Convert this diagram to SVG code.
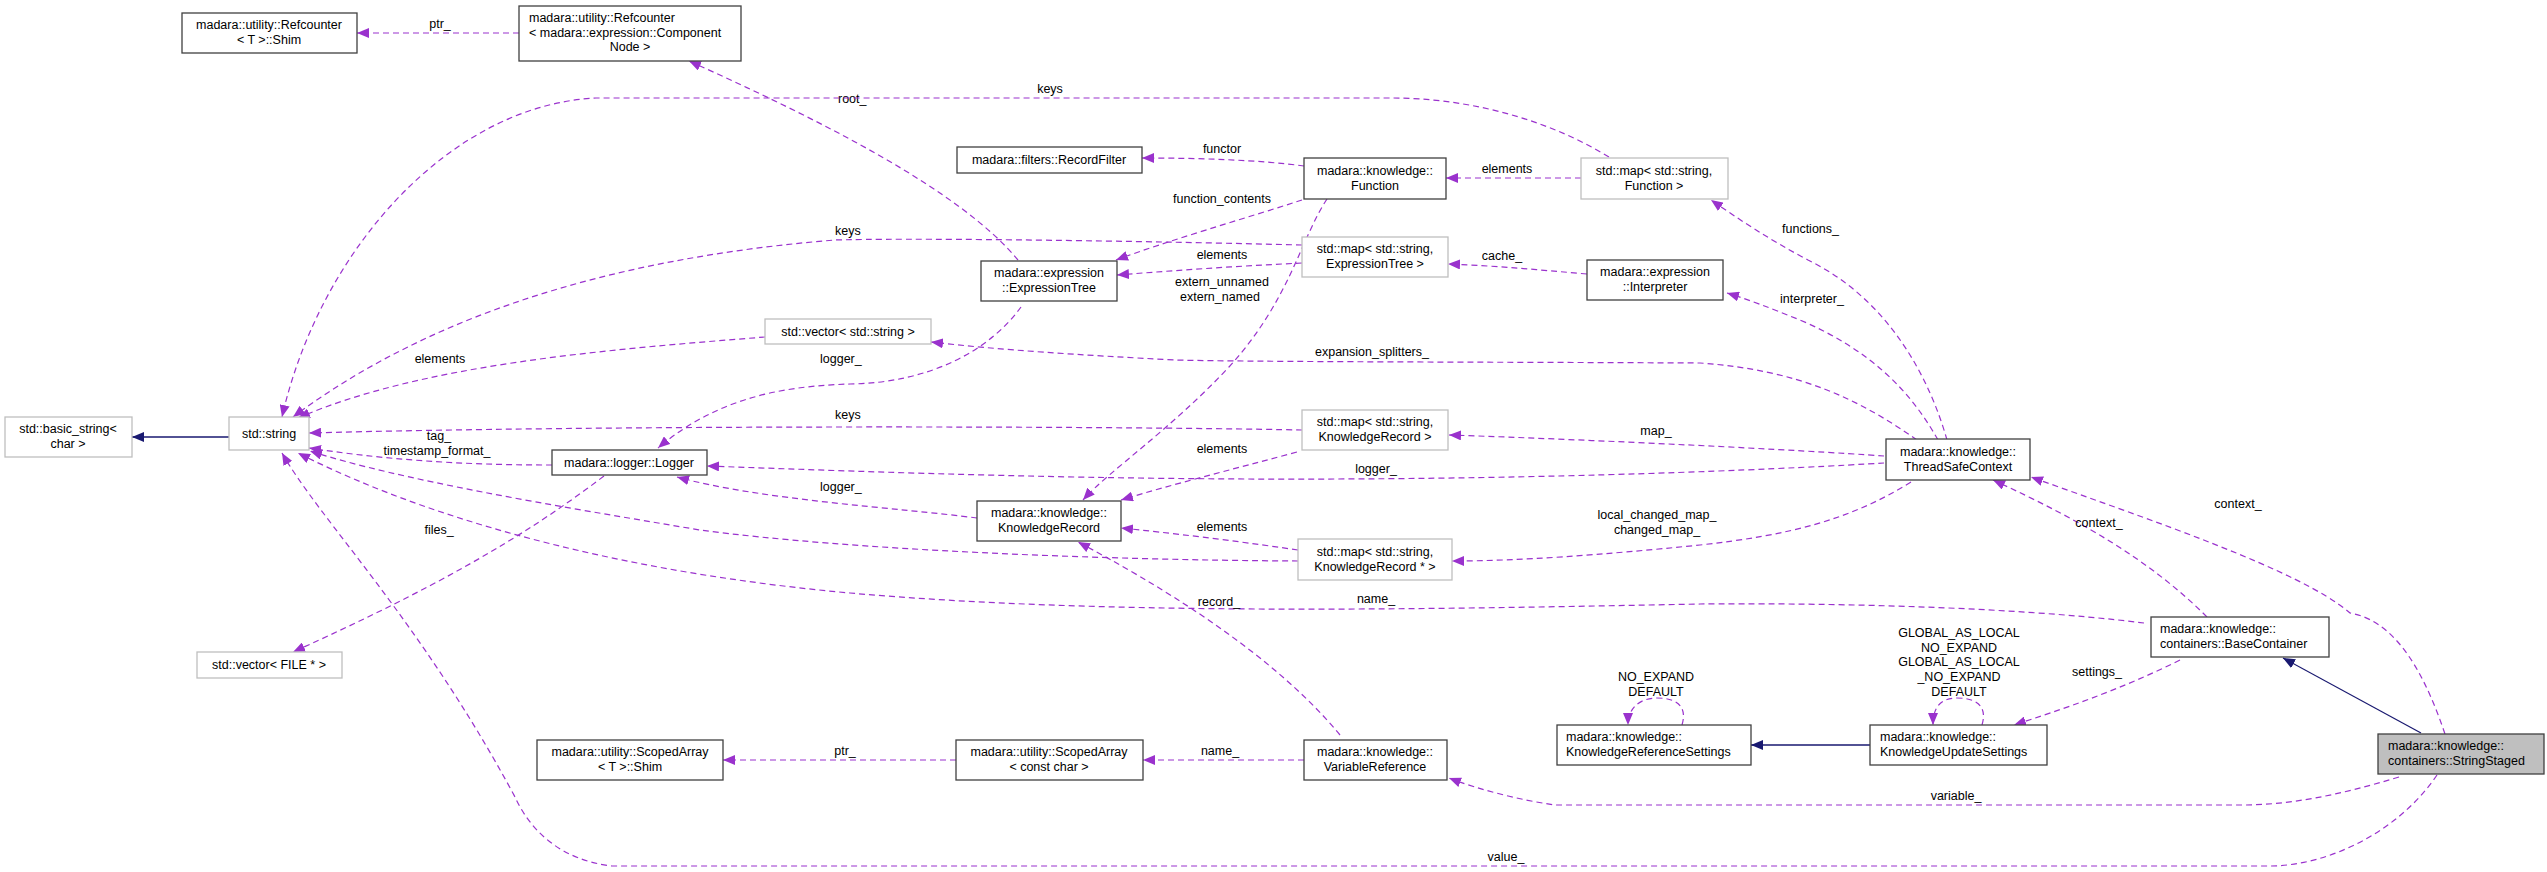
<svg xmlns="http://www.w3.org/2000/svg" width="2547" height="872" viewBox="0 0 2547 872">
<style>
text{font-family:"Liberation Sans",Arial,sans-serif;font-size:12.5px;fill:#000}
.c{text-anchor:middle}
.n rect{fill:#fff;stroke:#404040;stroke-width:1.3}
.g rect{fill:#fff;stroke:#bfbfbf;stroke-width:1.3}
.e{fill:none;stroke:#9a32cd;stroke-width:1.2;stroke-dasharray:6,4;marker-end:url(#pa)}
.b{fill:none;stroke:#191970;stroke-width:1.3;marker-end:url(#ba)}
</style>
<defs>
<marker id="pa" markerWidth="14" markerHeight="10" refX="12" refY="5" orient="auto" markerUnits="userSpaceOnUse"><path d="M0,0 L12,5 L0,10 Z" fill="#9a32cd"/></marker>
<marker id="ba" markerWidth="14" markerHeight="10" refX="12" refY="5" orient="auto" markerUnits="userSpaceOnUse"><path d="M0,0 L12,5 L0,10 Z" fill="#191970"/></marker>
</defs>
<rect width="2547" height="872" fill="#fff"/>
<g id="edges">
<path class="e" d="M519,33 L357,33"/><text class="c" x="440" y="28">ptr_</text>
<path class="e" d="M1018,260 C960,190 820,120 689,61"/><text x="838" y="103">root_</text>
<path class="e" d="M1609,157 C1540,115 1460,98 1392,98 L596,98 C450,105 320,250 282,417"/><text class="c" x="1050" y="93">keys</text>
<path class="e" d="M1302,245 C1100,240 900,238 835,240 C650,255 450,300 293,417"/><text x="835" y="235">keys</text>
<path class="e" d="M765,337 C600,350 420,365 298,418"/><text class="c" x="440" y="363">elements</text>
<path class="e" d="M1302,430 C1100,426 600,425 309,433"/><text x="835" y="419">keys</text>
<path class="e" d="M552,465 C480,465 400,462 309,448"/><text class="c" x="439" y="440">tag_</text><text class="c" x="437" y="455">timestamp_format_</text>
<path class="e" d="M1298,561 C1100,560 850,550 700,530 C550,505 400,480 310,451"/>
<path class="e" d="M2144,623 C2000,605 1800,603 1700,604 C1400,610 1100,615 850,593 C650,575 450,530 298,453"/><text class="c" x="1376" y="603">name_</text>
<path class="e" d="M2437,775 C2400,830 2330,866 2269,866 L612,866 C560,860 530,830 515,797 C420,620 320,520 282,453"/><text class="c" x="1506" y="861">value_</text>
<path class="b" d="M229,437 L132,437"/>
<path class="e" d="M1304,166 C1260,160 1200,158 1142,158"/><text class="c" x="1222" y="153">functor</text>
<path class="e" d="M1302,200 C1240,220 1170,240 1116,260"/><text class="c" x="1222" y="203">function_contents</text>
<path class="e" d="M1581,178 L1446,178"/><text class="c" x="1507" y="173">elements</text>
<path class="e" d="M1302,263 C1240,266 1180,270 1117,275"/><text class="c" x="1222" y="259">elements</text>
<path class="e" d="M1587,274 C1540,270 1500,266 1448,264"/><text class="c" x="1502" y="260">cache_</text>
<path class="e" d="M1947,440 C1930,380 1890,300 1808,260 C1770,240 1740,220 1711,200"/><text x="1782" y="233">functions_</text>
<path class="e" d="M1938,440 C1910,390 1870,350 1800,320 C1770,308 1750,300 1727,293"/><text x="1780" y="303">interpreter_</text>
<path class="e" d="M1917,440 C1860,400 1800,370 1700,363 C1500,362 1250,362 1175,360 C1080,355 1000,350 931,342"/><text class="c" x="1372" y="356">expansion_splitters_</text>
<path class="e" d="M1327,199 C1300,240 1290,300 1229,367 C1170,430 1110,470 1083,500"/><text class="c" x="1222" y="286">extern_unnamed</text><text class="c" x="1220" y="301">extern_named</text>
<path class="e" d="M1021,307 C990,350 930,383 850,384 C790,386 720,395 658,448"/><text x="820" y="363">logger_</text>
<path class="e" d="M1297,452 C1230,470 1170,485 1121,500"/><text class="c" x="1222" y="453">elements</text>
<path class="e" d="M1884,456 C1800,450 1600,440 1449,435"/><text class="c" x="1656" y="435">map_</text>
<path class="e" d="M1884,463 C1800,468 1600,478 1338,479 C1100,480 900,473 707,466"/><text class="c" x="1376" y="473">logger_</text>
<path class="e" d="M977,518 C900,508 760,500 677,477"/><text x="820" y="491">logger_</text>
<path class="e" d="M1298,550 C1230,540 1170,533 1121,528"/><text class="c" x="1222" y="531">elements</text>
<path class="e" d="M1911,482 C1850,520 1790,535 1700,545 C1600,555 1520,561 1452,561"/><text class="c" x="1657" y="519">local_changed_map_</text><text class="c" x="1657" y="534">changed_map_</text>
<path class="e" d="M1340,735 C1270,650 1150,580 1078,542"/><text class="c" x="1219" y="606">record_</text>
<path class="e" d="M1304,760 L1143,760"/><text class="c" x="1220" y="755">name_</text>
<path class="e" d="M956,760 L723,760"/><text class="c" x="845" y="755">ptr_</text>
<path class="e" d="M604,476 C520,540 430,590 293,652"/><text class="c" x="439" y="534">files_</text>
<path class="e" d="M2207,617 C2150,560 2080,520 1993,480"/><text class="c" x="2099" y="527">context_</text>
<path class="e" d="M2445,734 C2420,660 2390,620 2350,613 C2300,570 2150,520 2031,477"/><text class="c" x="2238" y="508">context_</text>
<path class="e" d="M2180,660 C2120,690 2060,710 2014,725"/><text class="c" x="2097" y="676">settings_</text>
<path class="b" d="M2421,733 L2283,658"/>
<path class="b" d="M1870,745 L1751,745"/>
<path class="e" d="M1982,725 C1988,705 1975,698 1957,698 C1940,698 1933,708 1933,725"/>
<text class="c" x="1959" y="637">GLOBAL_AS_LOCAL</text><text class="c" x="1959" y="652">NO_EXPAND</text><text class="c" x="1959" y="666">GLOBAL_AS_LOCAL</text><text class="c" x="1959" y="681">_NO_EXPAND</text><text class="c" x="1959" y="696">DEFAULT</text>
<path class="e" d="M1682,725 C1688,705 1675,698 1657,698 C1640,698 1628,708 1628,725"/>
<text class="c" x="1656" y="681">NO_EXPAND</text><text class="c" x="1656" y="696">DEFAULT</text>
<path class="e" d="M2399,777 C2340,795 2290,805 2242,805 L1555,805 C1520,800 1480,790 1449,778"/><text class="c" x="1956" y="800">variable_</text>
</g>
<g id="n_shim1" class="n"><rect x="182" y="13" width="175" height="40"/><text class="c" x="269" y="29">madara::utility::Refcounter</text><text class="c" x="269" y="44">&lt; T &gt;::Shim</text></g>
<g id="n_refcn" class="n"><rect x="519" y="6" width="222" height="55"/><text x="529" y="22">madara::utility::Refcounter</text><text x="529" y="37">&lt; madara::expression::Component</text><text class="c" x="630" y="51">Node &gt;</text></g>
<g id="n_basic" class="g"><rect x="5" y="417" width="127" height="40"/><text class="c" x="68" y="433">std::basic_string&lt;</text><text class="c" x="68" y="448">char &gt;</text></g>
<g id="n_string" class="g"><rect x="229" y="417" width="80" height="33"/><text class="c" x="269" y="438">std::string</text></g>
<g id="n_vecstr" class="g"><rect x="765" y="319" width="166" height="25"/><text class="c" x="848" y="336">std::vector&lt; std::string &gt;</text></g>
<g id="n_recfilter" class="n"><rect x="957" y="147" width="185" height="26"/><text class="c" x="1049" y="164">madara::filters::RecordFilter</text></g>
<g id="n_function" class="n"><rect x="1304" y="158" width="142" height="41"/><text class="c" x="1375" y="175">madara::knowledge::</text><text class="c" x="1375" y="190">Function</text></g>
<g id="n_mapfunc" class="g"><rect x="1581" y="158" width="147" height="41"/><text class="c" x="1654" y="175">std::map&lt; std::string,</text><text class="c" x="1654" y="190">Function &gt;</text></g>
<g id="n_exprtree" class="n"><rect x="981" y="261" width="136" height="40"/><text class="c" x="1049" y="277">madara::expression</text><text class="c" x="1049" y="292">::ExpressionTree</text></g>
<g id="n_mapexpr" class="g"><rect x="1302" y="237" width="146" height="40"/><text class="c" x="1375" y="253">std::map&lt; std::string,</text><text class="c" x="1375" y="268">ExpressionTree &gt;</text></g>
<g id="n_interp" class="n"><rect x="1587" y="260" width="136" height="40"/><text class="c" x="1655" y="276">madara::expression</text><text class="c" x="1655" y="291">::Interpreter</text></g>
<g id="n_mapkr" class="g"><rect x="1302" y="410" width="146" height="40"/><text class="c" x="1375" y="426">std::map&lt; std::string,</text><text class="c" x="1375" y="441">KnowledgeRecord &gt;</text></g>
<g id="n_logger" class="n"><rect x="552" y="450" width="155" height="25"/><text class="c" x="629" y="467">madara::logger::Logger</text></g>
<g id="n_vecfile" class="g"><rect x="197" y="652" width="145" height="26"/><text class="c" x="269" y="669">std::vector&lt; FILE * &gt;</text></g>
<g id="n_shim2" class="n"><rect x="537" y="740" width="186" height="40"/><text class="c" x="630" y="756">madara::utility::ScopedArray</text><text class="c" x="630" y="771">&lt; T &gt;::Shim</text></g>
<g id="n_kr" class="n"><rect x="977" y="501" width="144" height="40"/><text class="c" x="1049" y="517">madara::knowledge::</text><text class="c" x="1049" y="532">KnowledgeRecord</text></g>
<g id="n_mapkrp" class="g"><rect x="1298" y="539" width="154" height="41"/><text class="c" x="1375" y="556">std::map&lt; std::string,</text><text class="c" x="1375" y="571">KnowledgeRecord * &gt;</text></g>
<g id="n_scoped" class="n"><rect x="956" y="740" width="187" height="40"/><text class="c" x="1049" y="756">madara::utility::ScopedArray</text><text class="c" x="1049" y="771">&lt; const char &gt;</text></g>
<g id="n_varref" class="n"><rect x="1304" y="740" width="143" height="40"/><text class="c" x="1375" y="756">madara::knowledge::</text><text class="c" x="1375" y="771">VariableReference</text></g>
<g id="n_krs" class="n"><rect x="1557" y="725" width="194" height="40"/><text x="1566" y="741">madara::knowledge::</text><text x="1566" y="756">KnowledgeReferenceSettings</text></g>
<g id="n_tsc" class="n"><rect x="1886" y="439" width="144" height="41"/><text class="c" x="1958" y="456">madara::knowledge::</text><text class="c" x="1958" y="471">ThreadSafeContext</text></g>
<g id="n_base" class="n"><rect x="2151" y="617" width="178" height="40"/><text x="2160" y="633">madara::knowledge::</text><text x="2160" y="648">containers::BaseContainer</text></g>
<g id="n_kus" class="n"><rect x="1870" y="725" width="177" height="40"/><text x="1880" y="741">madara::knowledge::</text><text x="1880" y="756">KnowledgeUpdateSettings</text></g>
<g id="n_staged" class="n"><rect x="2378" y="734" width="166" height="40" style="fill:#bfbfbf"/><text x="2388" y="750">madara::knowledge::</text><text x="2388" y="765">containers::StringStaged</text></g>
</svg>
